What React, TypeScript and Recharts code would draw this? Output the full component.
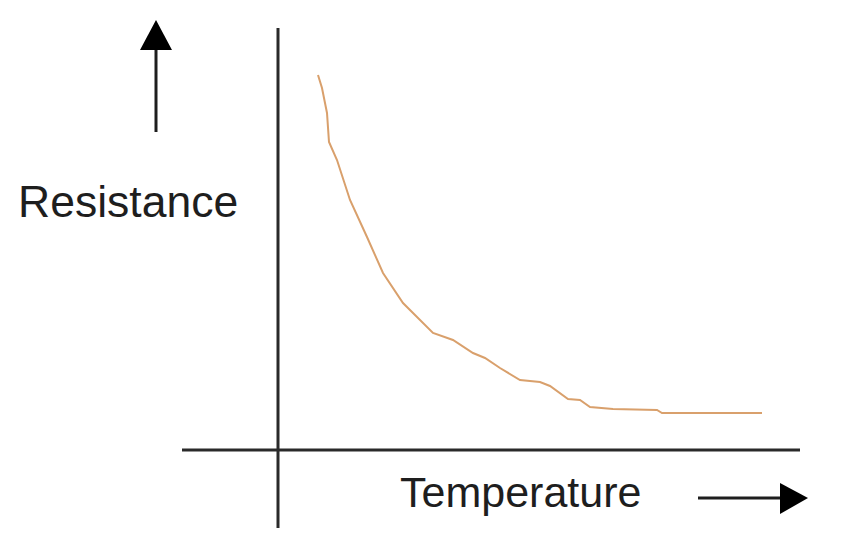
import React from "react";
import { LineChart, Line, XAxis, YAxis, ReferenceLine, Customized } from "recharts";

// Temperature (arbitrary units) and resistance (arbitrary units)
const temperature = [8, 8.8, 9.8, 10.2, 11.8, 14.4, 17.8, 21, 25, 31, 35, 39, 41.4, 44.4, 48.4, 52.4, 54.4, 58, 60.4, 62.4, 67, 75.8, 76.8, 96.8];
const resistance = [93.75, 90.5, 84.25, 77, 72.5, 62.5, 53.25, 44.25, 36.75, 29.25, 27.5, 24.25, 23, 20.5, 17.5, 17, 16, 12.75, 12.5, 10.75, 10.25, 10, 9.25, 9.25];
const xLabel = "Temperature";
const yLabel = "Resistance";

const data = temperature.map((t, i) => ({ t, r: resistance[i] }));

const INK = "#1e1e1e";
const FONT = "'Liberation Sans', Arial, sans-serif";

const Annotations = () => (
  <g>
    <text x={10} y={209} fontSize={44.5} fontFamily={FONT} fill={INK}>{yLabel}</text>
    <text x={392} y={499} fontSize={43} fontFamily={FONT} fill={INK}>{xLabel}</text>
    <line x1={148} y1={124} x2={148} y2={40} stroke={INK} strokeWidth={3} />
    <polygon points="148,12 132,42 164,42" fill="#000" />
    <line x1={690} y1={490} x2={774} y2={490} stroke={INK} strokeWidth={3} />
    <polygon points="800,490 772,475 772,506" fill="#000" />
  </g>
);

export default function App() {
  return (
    <div style={{ width: 850, height: 560, background: "#fff" }}>
      <LineChart
        width={850}
        height={560}
        data={data}
        margin={{ top: 20, right: 58, bottom: 40, left: 174 }}
      >
        <XAxis dataKey="t" type="number" domain={[-19.2, 104.4]} hide />
        <YAxis type="number" domain={[-19.5, 105.5]} hide />
        <ReferenceLine x={0} stroke="#2a2a2a" strokeWidth={3} />
        <ReferenceLine y={0} stroke="#2a2a2a" strokeWidth={3} />
        <Line
          dataKey="r"
          type="linear"
          stroke="#d9a06c"
          strokeWidth={2}
          dot={false}
          isAnimationActive={false}
        />
        <Customized component={Annotations} />
      </LineChart>
    </div>
  );
}
